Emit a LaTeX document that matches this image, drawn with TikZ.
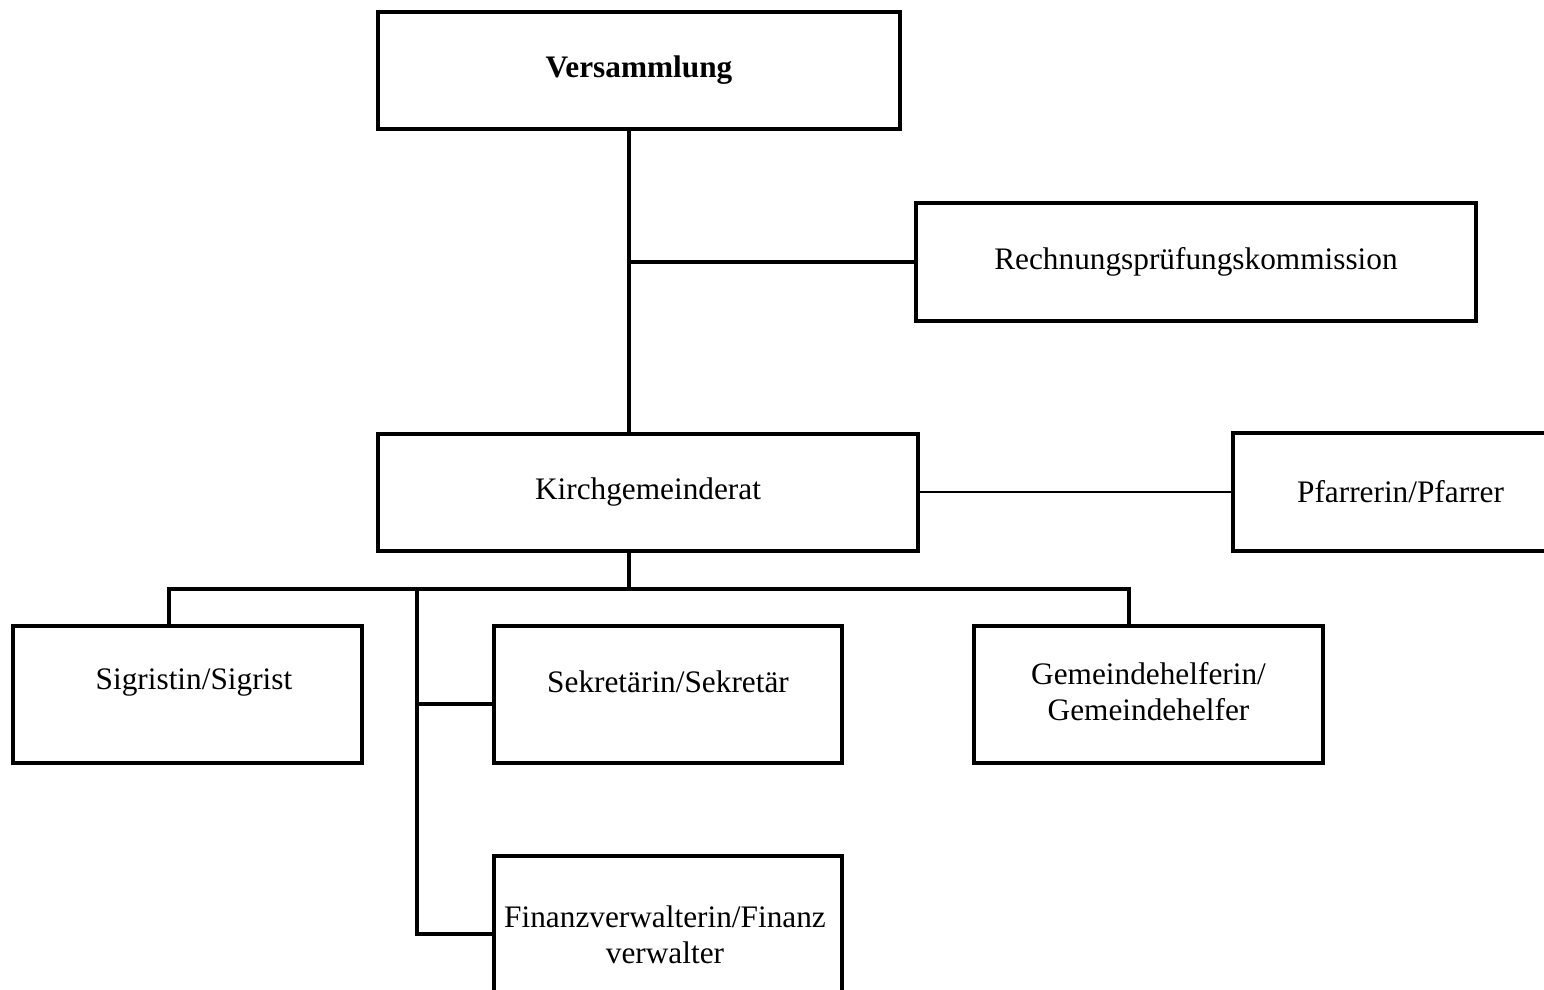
\documentclass[tikz,border=0pt]{standalone}
\usepackage{fontspec}
\setmainfont{Liberation Serif}
\begin{document}
\begin{tikzpicture}[x=1pt,y=-1pt,
  box/.style={draw=black, line width=3.1pt, rectangle, inner sep=0pt, line join=miter,
    font=\fontsize{31.3}{36}\selectfont, align=center},
  txt/.style={font=\fontsize{31.3}{36}\selectfont, align=center, inner sep=0pt},
  conn/.style={draw=black, line width=3.1pt, line join=miter},
  thinconn/.style={draw=black, line width=1.6pt}]
\useasboundingbox (0,0) rectangle (1544,989);
\clip (0,0) rectangle (1544,989);
\fill[white] (0,0) rectangle (1544,989);
% boxes
\node[box, minimum width=522pt, minimum height=117pt] (vers) at (639,70.5) {\bfseries Versammlung};
\node[box, minimum width=560pt, minimum height=118pt] (rpk) at (1196,262) {Rechnungsprüfungskommission};
\node[box, minimum width=540pt, minimum height=117pt] (kgr) at (648,492.5) {Kirchgemeinderat};
\node[box, minimum width=335pt, minimum height=118pt] (pf) at (1400.5,492) {Pfarrerin/Pfarrer};
\node[box, minimum width=349pt, minimum height=137pt] (sig) at (187.5,694.5) {};
\node[txt] (sigt) at (194,683) {Sigristin/Sigrist};
\node[box, minimum width=348pt, minimum height=137pt] (sek) at (668,694.5) {};
\node[txt] (sekt) at (668,682) {Sekretärin/Sekretär};
\node[box, minimum width=349pt, minimum height=137pt] (gem) at (1148.5,694.5) {};
\node[txt] (gemt) at (1148.5,692) {Gemeindehelferin/\\Gemeindehelfer};
\node[box, minimum width=348pt, minimum height=137pt] (fin) at (668,924.5) {};
\node[txt] (fint) at (665,935) {Finanzverwalterin/Finanz\\verwalter};
% helper coordinates
\coordinate (trunk) at (629,0);
\coordinate (bus) at (0,589);
\coordinate (sx) at (169,0);
\coordinate (gx) at (1129,0);
\coordinate (vx) at (417,0);
\coordinate (sy) at (0,704);
\coordinate (fy) at (0,934);
\coordinate (py) at (0,492);
% connectors
\draw[conn] (vers.south -| trunk) -- (kgr.north -| trunk);
\draw[conn] (rpk.west) -- (rpk.west -| trunk);
\draw[thinconn] (kgr.east |- py) -- (pf.west |- py);
\draw[conn] (kgr.south -| trunk) -- (bus -| trunk);
\draw[conn] (sig.north -| sx) -- (bus -| sx) -- (bus -| gx) -- (gem.north -| gx);
\draw[conn] (bus -| vx) |- (fin.west |- fy);
\draw[conn] (vx |- sy) -- (sek.west |- sy);
\end{tikzpicture}
\end{document}
